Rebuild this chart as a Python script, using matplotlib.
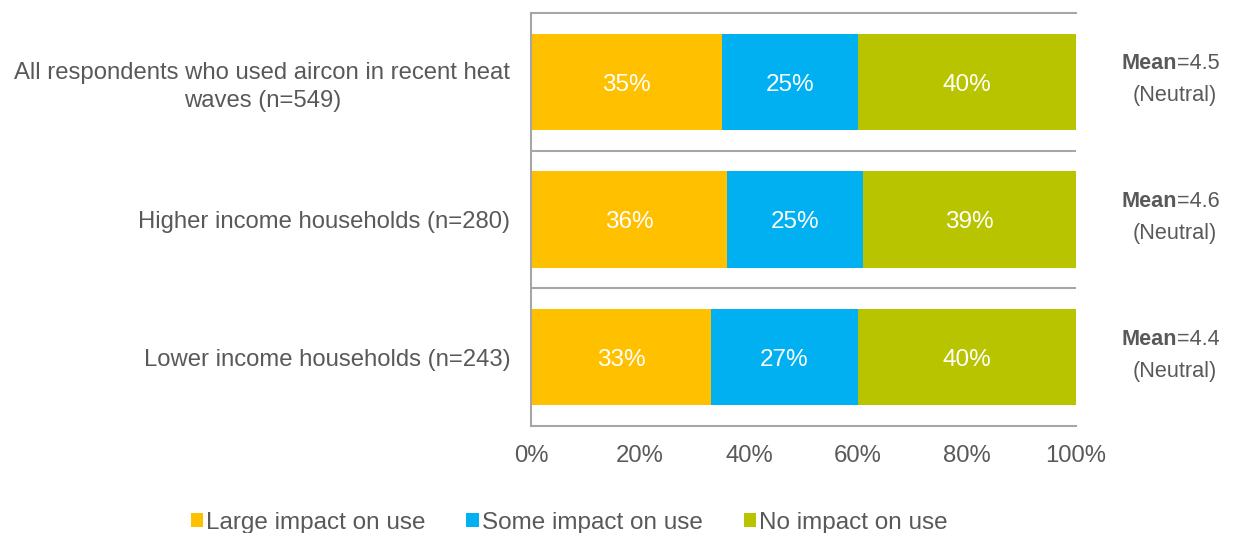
import matplotlib.pyplot as plt
from matplotlib.patches import Patch

plt.rcParams['font.family'] = ['Liberation Sans', 'DejaVu Sans']

categories = [
    "All respondents who used aircon in recent heat\nwaves (n=549)",
    "Higher income households (n=280)",
    "Lower income households (n=243)",
]
series_names = ["Large impact on use", "Some impact on use", "No impact on use"]
large = [35, 36, 33]
some = [25, 25, 27]
none_ = [40, 39, 40]
means = ["4.5", "4.6", "4.4"]
mean_desc = ["(Neutral)", "(Neutral)", "(Neutral)"]
xticks = [0, 20, 40, 60, 80, 100]

colors = ["#FFC000", "#00B0F0", "#B8C400"]
text_gray = "#595959"
line_gray = "#A6A6A6"

fig = plt.figure(figsize=(12.33, 5.33), dpi=100)
ax = fig.add_axes([531 / 1233, 1 - 426 / 533, 545 / 1233, 413 / 533])

ypos = list(range(len(categories)))
left = [0] * len(categories)
for vals, col in zip([large, some, none_], colors):
    bars = ax.barh(ypos, vals, left=left, height=0.70, color=col, edgecolor='none')
    for b, v in zip(bars, vals):
        ax.annotate(f"{v}%", xy=(b.get_x() + b.get_width() / 2, b.get_y() + b.get_height() / 2),
                    xytext=(0, -2), textcoords='offset points',
                    ha='center', va='center', color='white', fontsize=17.5)
    left = [l + v for l, v in zip(left, vals)]

ax.set_xlim(0, 100)
ax.set_ylim(len(categories) - 0.5, -0.5)
ax.set_xticks(xticks)
ax.set_xticklabels([f"{t}%" for t in xticks])
ax.set_yticks(ypos)
ax.set_yticklabels(categories, multialignment='center', linespacing=1.35)
ax.tick_params(axis='both', length=0, colors=text_gray, labelsize=17.2)
ax.tick_params(axis='x', pad=14)
ax.tick_params(axis='y', pad=15)

for y in [0.5 + i for i in range(len(categories) - 1)]:
    ax.axhline(y, color=line_gray, lw=1.5, zorder=0)
for s in ['top', 'bottom', 'left']:
    ax.spines[s].set_color(line_gray)
    ax.spines[s].set_linewidth(1.5)
ax.spines['right'].set_visible(False)

# mean annotations to the right of each bar
for i, (m, d) in enumerate(zip(means, mean_desc)):
    t = ax.annotate("Mean", xy=(1.0, i), xycoords=('axes fraction', 'data'),
                    xytext=(33, 13), textcoords='offset points',
                    ha='left', va='center', fontsize=15.6, fontweight='bold',
                    color=text_gray, annotation_clip=False)
    ax.annotate(f"={m}", xy=(1, 0.5), xycoords=t, ha='left', va='center',
                fontsize=15.6, color=text_gray)
    ax.annotate(d, xy=(1.0, i), xycoords=('axes fraction', 'data'),
                xytext=(71, -10), textcoords='offset points',
                ha='center', va='center', fontsize=15.6, color=text_gray,
                annotation_clip=False)

handles = [Patch(facecolor=c, edgecolor='none') for c in colors]
fig.legend(handles, series_names, loc='center', bbox_to_anchor=(569 / 1233, 1 - 523 / 533),
           ncol=3, frameon=False, fontsize=17.5, labelcolor=text_gray,
           handlelength=0.5, handleheight=0.5, handletextpad=0.12, columnspacing=1.7)

fig.savefig("out.png", dpi=100)
